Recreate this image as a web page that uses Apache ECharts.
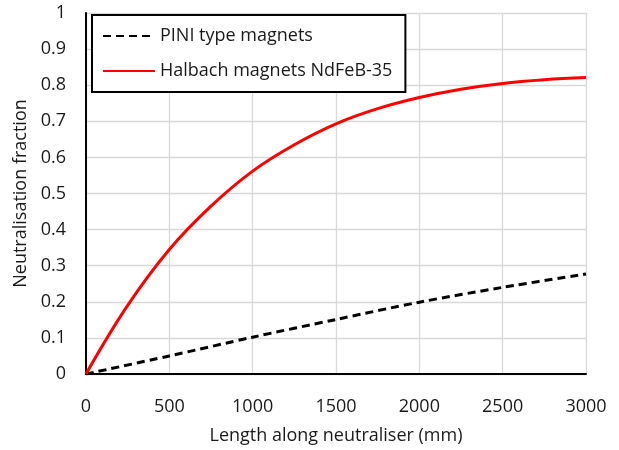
<!DOCTYPE html>
<html>
<head>
<meta charset="utf-8">
<script src="https://cdn.jsdelivr.net/npm/echarts@6/dist/echarts.min.js"></script>
<style>
  html, body { margin: 0; padding: 0; background: #fff; }
  #chart { width: 619px; height: 450px; }
</style>
</head>
<body>
<div id="chart"></div>
<script>
// Length along the neutraliser (mm)
const lengthsPini = [0, 500, 1000, 1500, 2000, 2500, 3000];
// Neutralisation fraction, PINI type magnets
const piniFraction = [0, 0.05, 0.102, 0.151, 0.199, 0.240, 0.277];

const lengthsHalbach = [0, 250, 500, 750, 1000, 1250, 1500, 1750, 2000, 2250, 2500, 2750, 3000];
// Neutralisation fraction, Halbach magnets NdFeB-35
const halbachFraction = [0, 0.19, 0.345, 0.465, 0.562, 0.635, 0.693, 0.735, 0.766, 0.789, 0.805, 0.815, 0.821];

const seriesNames = ['PINI type magnets', 'Halbach magnets NdFeB-35'];
const xTitle = 'Length along neutraliser (mm)';
const yTitle = 'Neutralisation fraction';

const FONT = 'Open Sans';
const FS = 18;
const pair = (xs, ys) => xs.map((x, i) => [x, ys[i]]);

const chart = echarts.init(document.getElementById('chart'));
chart.setOption({
  animation: false,
  textStyle: { fontFamily: FONT },
  grid: { left: 86, right: 33, top: 13, bottom: 76, containLabel: false, outerBoundsMode: 'none' },
  xAxis: {
    type: 'value', min: 0, max: 3000, interval: 500,
    name: xTitle, nameLocation: 'middle', nameGap: 53,
    nameTextStyle: { fontSize: FS, color: '#1a1a1a', fontFamily: FONT },
    axisLine: { show: true, lineStyle: { color: '#000', width: 2 } },
    axisTick: { show: false },
    axisLabel: { fontSize: FS, color: '#1a1a1a', margin: 24, fontFamily: FONT,
      formatter: v => String(v) },
    splitLine: { show: true, lineStyle: { color: '#d9d9d9', width: 1.3 } }
  },
  yAxis: {
    type: 'value', min: 0, max: 1, interval: 0.1,
    name: yTitle, nameLocation: 'middle', nameGap: 51,
    nameTextStyle: { fontSize: FS, color: '#1a1a1a', fontFamily: FONT },
    axisLine: { show: true, lineStyle: { color: '#000', width: 2 } },
    axisTick: { show: false },
    axisLabel: { fontSize: FS, color: '#1a1a1a', margin: 20, fontFamily: FONT,
      formatter: v => String(Math.round(v * 10) / 10) },
    splitLine: { show: true, lineStyle: { color: '#d9d9d9', width: 1.3 } }
  },
  legend: {
    orient: 'vertical', left: 92, top: 15,
    padding: [12, 13, 12, 10],
    backgroundColor: '#fff', borderColor: '#000', borderWidth: 2,
    itemWidth: 52, itemHeight: 14, itemGap: 17,
    itemStyle: { opacity: 0 },
    textStyle: { fontSize: FS, color: '#1a1a1a', fontFamily: FONT },
    data: seriesNames
  },
  series: [
    {
      name: seriesNames[0], type: 'line', data: pair(lengthsPini, piniFraction),
      symbol: 'none', smooth: 0.3,
      lineStyle: { color: '#000', width: 3, type: [8, 5] },
      itemStyle: { color: '#000' }
    },
    {
      name: seriesNames[1], type: 'line', data: pair(lengthsHalbach, halbachFraction),
      symbol: 'none', smooth: 0.4,
      lineStyle: { color: '#ff0000', width: 3 },
      itemStyle: { color: '#ff0000' }
    }
  ]
});
</script>
</body>
</html>
